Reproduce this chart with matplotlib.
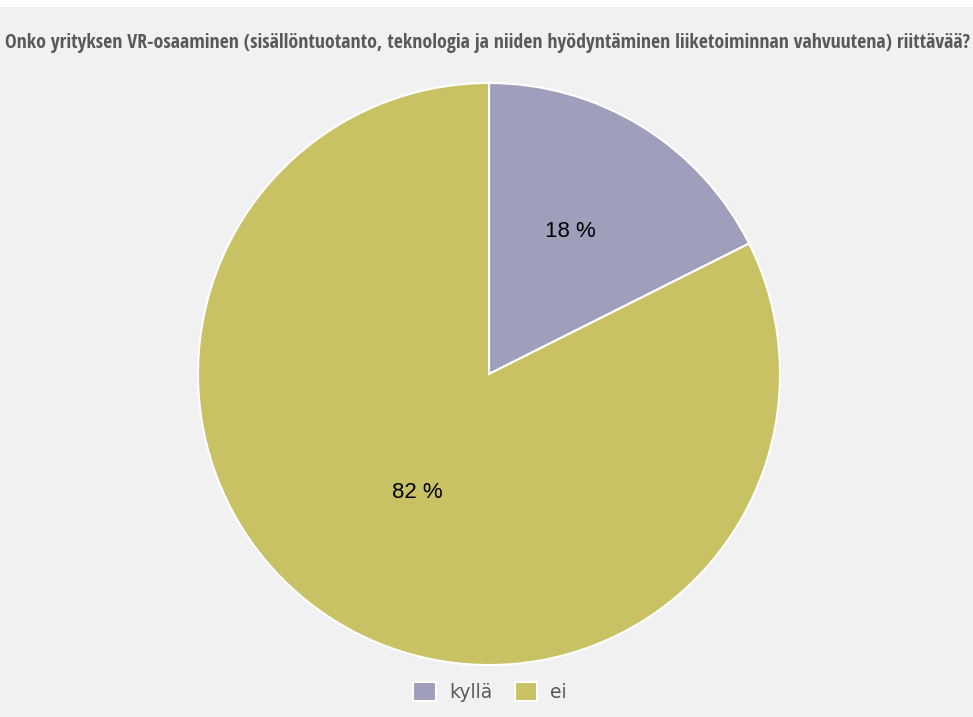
import matplotlib
matplotlib.use("Agg")
import matplotlib.pyplot as plt
from matplotlib.patches import Rectangle
from matplotlib import font_manager

title = "Onko yrityksen VR-osaaminen (sisällöntuotanto, teknologia ja niiden hyödyntäminen liiketoiminnan vahvuutena) riittävää?"
categories = ["kyllä", "ei"]
values = [17.6, 82.4]
labels = ["18 %", "82 %"]
colors = ["#9f9fbb", "#c8c264"]

W, H = 973, 717
fig = plt.figure(figsize=(W / 100, H / 100), dpi=100)
fig.patch.set_facecolor("#f1f1f1")
fig.patches.append(Rectangle((0, 1 - 7 / H), 1, 7 / H, transform=fig.transFigure,
                             facecolor="white", edgecolor="none"))

cx, cy, r = 489, 374, 291
ax = fig.add_axes([(cx - r) / W, 1 - (cy + r) / H, 2 * r / W, 2 * r / H])
ax.set_facecolor("none")
wedges, _ = ax.pie(values, colors=colors, startangle=90, counterclock=False,
                   radius=1, wedgeprops=dict(edgecolor="white", linewidth=1.5))
ax.set_xlim(-1, 1)
ax.set_ylim(-1, 1)
ax.set_aspect("auto")
ax.axis("off")

label_pos = [(570, 232), (417, 493)]
for (px, py), lab in zip(label_pos, labels):
    fig.text(px / W, 1 - py / H, lab, ha="center", va="center", fontsize=16,
             color="black", family="Liberation Sans")

# pick the narrowest available bold font for the long title
names = {f.name for f in font_manager.fontManager.ttflist}
cands = [c for c in ["Liberation Sans Narrow", "Open Sans Condensed", "Roboto Condensed",
                     "Roboto", "Lato", "Liberation Sans", "Inter", "Noto Sans", "Open Sans",
                     "DejaVu Sans"] if c in names]
t = fig.text(488 / W, 1 - 43 / H, title, ha="center", va="center", fontsize=16,
             fontweight="bold", color="#595959")
fig.canvas.draw()
best = None
for c in cands:
    t.set_family(c)
    w = t.get_window_extent(renderer=fig.canvas.get_renderer()).width
    if best is None or w < best[1]:
        best = (c, w)
t.set_family(best[0])
t.set_fontsize(16 * 962 / best[1])

leg = fig.legend(wedges, categories, loc="center", bbox_to_anchor=(490 / W, 1 - 692 / H),
                 ncol=2, frameon=False, fontsize=13.5, handlelength=1.2, handleheight=1.2,
                 handletextpad=0.7, columnspacing=1.2)
for tx in leg.get_texts():
    tx.set_color("#595959")

fig.savefig("out.png", dpi=100, facecolor=fig.get_facecolor())
